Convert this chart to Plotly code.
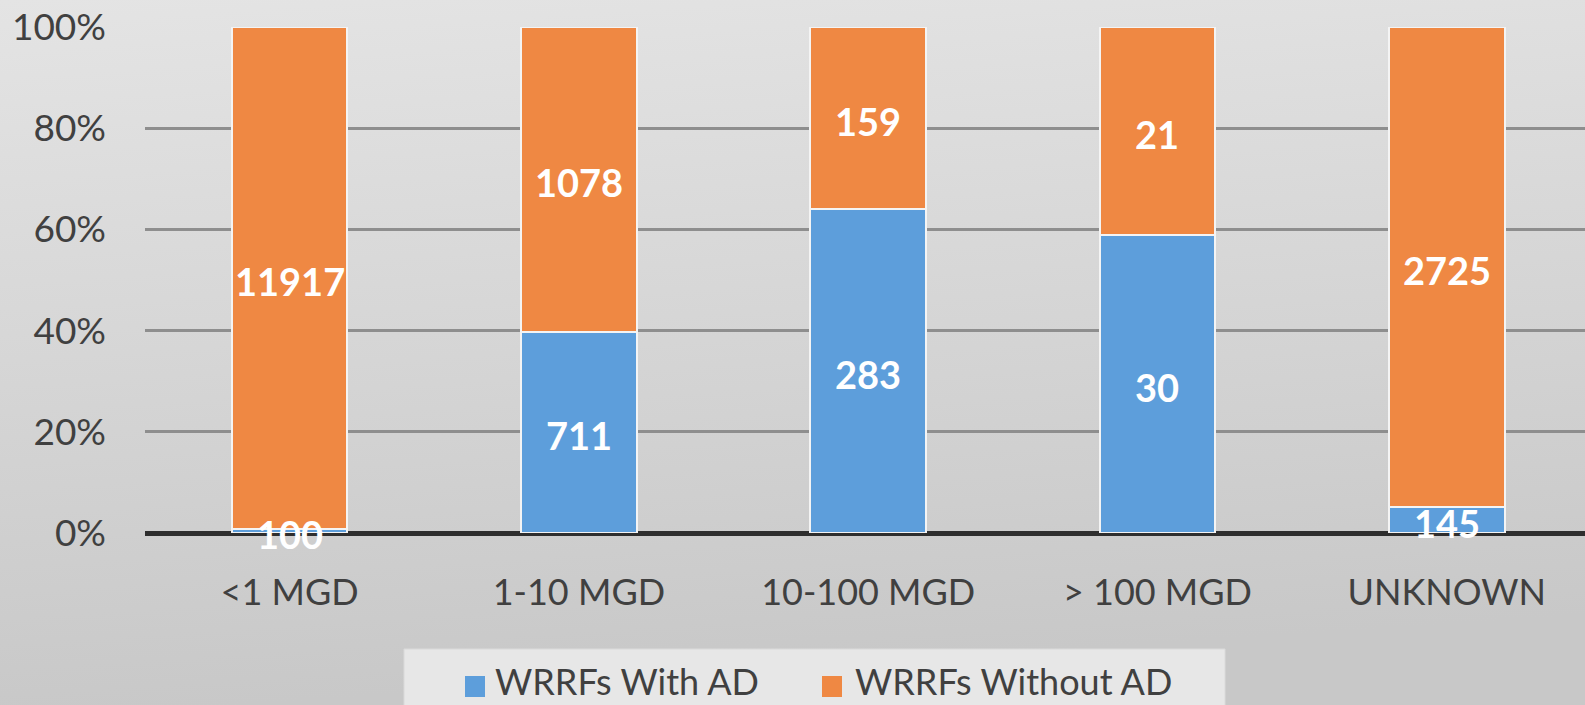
import base64
import numpy as np
import plotly.graph_objects as go

categories = ["<1 MGD", "1-10 MGD", "10-100 MGD", "> 100 MGD", "UNKNOWN"]
with_ad = [100, 711, 283, 30, 145]
without_ad = [11917, 1078, 159, 21, 2725]
series_names = ["WRRFs With AD", "WRRFs Without AD"]
y_ticks = [0, 20, 40, 60, 80, 100]
y_tick_labels = ["0%", "20%", "40%", "60%", "80%", "100%"]

BLUE = "#5d9edb"
ORANGE = "#ef8843"
FONT = "Lato"
TXT = "#404040"

w = np.array(with_ad, dtype=float)
wo = np.array(without_ad, dtype=float)
tot = w + wo
p_with = w / tot * 100
p_without = wo / tot * 100

fig = go.Figure()
fig.add_trace(go.Bar(x=categories, y=p_with, name=series_names[0],
                     marker=dict(color=BLUE, line=dict(color="#f4f4f4", width=2)),
                     width=0.4, showlegend=False, hoverinfo="skip"))
fig.add_trace(go.Bar(x=categories, y=p_without, name=series_names[1],
                     marker=dict(color=ORANGE, line=dict(color="#f4f4f4", width=2)),
                     width=0.4, showlegend=False, hoverinfo="skip"))

# value labels
for i, c in enumerate(categories):
    fig.add_annotation(x=c, y=p_with[i] / 2, text=f"<b>{with_ad[i]}</b>", showarrow=False,
                       font=dict(family=FONT, size=38, color="white"), xref="x", yref="y", yshift=-3)
    fig.add_annotation(x=c, y=p_with[i] + p_without[i] / 2, text=f"<b>{without_ad[i]}</b>", showarrow=False,
                       font=dict(family=FONT, size=38, color="white"), xref="x", yref="y", yshift=-3)

svg = ('<svg xmlns="http://www.w3.org/2000/svg" width="100" height="100" preserveAspectRatio="none">'
       '<defs><linearGradient id="g" x1="0" y1="0" x2="0.15" y2="1">'
       '<stop offset="0" stop-color="#e4e4e4"/><stop offset="1" stop-color="#c8c8c8"/>'
       '</linearGradient></defs><rect width="100" height="100" fill="url(#g)"/></svg>')
src = "data:image/svg+xml;base64," + base64.b64encode(svg.encode()).decode()

L, R, T, B = 145, 0, 27, 172
W, H = 1585, 705
pw, ph = W - L - R, H - T - B

def px_x(x):
    return (x - L) / pw

def px_y(y):
    return (H - B - y) / ph

fig.add_layout_image(dict(source=src, xref="paper", yref="paper", x=px_x(0), y=px_y(0),
                          sizex=W / pw, sizey=H / ph, sizing="stretch", layer="below",
                          xanchor="left", yanchor="top"))

# legend box
fig.add_shape(type="rect", xref="paper", yref="paper", x0=px_x(404), x1=px_x(1225), y0=px_y(649), y1=px_y(720),
              fillcolor="#e7e7e7", line=dict(color="#dadada", width=1), layer="below")

# legend entries (swatch + label)
legend_items = [(series_names[0], BLUE, 465, 497), (series_names[1], ORANGE, 822, 857)]
for name, col, sx, tx in legend_items:
    fig.add_shape(type="rect", xref="paper", yref="paper", x0=px_x(sx), x1=px_x(sx + 20),
                  y0=px_y(676), y1=px_y(697), fillcolor=col, line=dict(width=0))
    fig.add_annotation(xref="paper", yref="paper", x=px_x(tx - 3), y=px_y(704), xanchor="left", yanchor="bottom",
                       text=name, showarrow=False, borderpad=0,
                       font=dict(family=FONT, size=36, color=TXT))

fig.update_layout(
    width=W, height=H,
    barmode="stack",
    margin=dict(l=L, r=R, t=T, b=B, autoexpand=False),
    paper_bgcolor="#d8d8d8",
    plot_bgcolor="rgba(0,0,0,0)",
    font=dict(family=FONT, color=TXT, size=36),
    xaxis=dict(range=[-0.5, 4.478], showgrid=False, zeroline=False, showline=False, automargin=False,
               ticks="", tickfont=dict(size=36, color=TXT), ticklabelstandoff=35),
    yaxis=dict(range=[0, 100], tickvals=y_ticks, ticktext=y_tick_labels, automargin=False,
               showgrid=True, gridcolor="#8e8e8e", gridwidth=3,
               zeroline=True, zerolinecolor="#2e2e2e", zerolinewidth=5,
               showline=False, ticks="", tickfont=dict(size=37, color=TXT), ticklabelstandoff=38),
    showlegend=False,
)

fig.write_html("out.html", config={"displayModeBar": False},
               post_script="document.body.style.margin='0';document.body.style.overflow='hidden';")
